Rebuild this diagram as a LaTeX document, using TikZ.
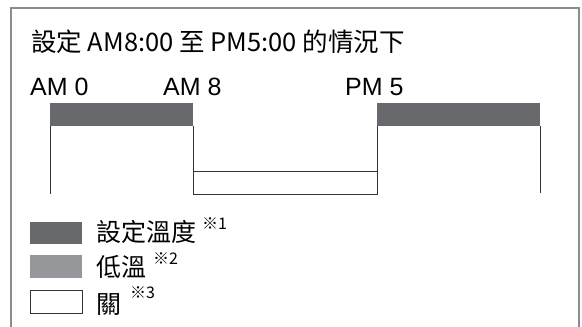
\documentclass[tikz,border=0pt]{standalone}
\usepackage{fontspec}
\setmainfont{Liberation Sans}
\newfontfamily\cjk{Noto Sans CJK TC}
\usetikzlibrary{positioning}
\definecolor{setgray}{HTML}{68696C}
\definecolor{lowgray}{HTML}{96979A}
\definecolor{framegray}{HTML}{8C8C8C}
\definecolor{linedark}{HTML}{333333}

\begin{document}
\begin{tikzpicture}[
      x=1pt,
      y=-1pt,
      timelabel/.style={
        anchor=base west,
        inner sep=0pt,
        font=\fontsize{25}{25}\selectfont
      },
      setbar/.style={
        fill=setgray,
        draw=none
      },
      stepline/.style={
        line width=1pt,
        draw=linedark
      },
      keybox/.style={
        minimum width=52pt,
        minimum height=22pt,
        inner sep=0pt,
        anchor=north west
      },
      keytext/.style={
        anchor=base west,
        inner sep=0pt,
        font=\cjk\fontsize{25}{25}\selectfont
      },
      keynote/.style={
        anchor=base west,
        inner sep=0pt,
        font=\cjk\fontsize{16}{16}\selectfont
      }
  ]

    \useasboundingbox (0,0) rectangle (582,327);

    % frame
    \draw[framegray, line width=2pt]
      (11,327) -- (11,8) -- (579,8) -- (579,327);

    % title
    \node[
      anchor=base west,
      inner sep=0pt,
      font=\cjk\fontsize{25.5}{25.5}\selectfont
    ] (title) at (31,51) {設定 AM8:00 至 PM5:00 的情況下};

    % hours
    \node[timelabel] (am0) at (30,95) {AM 0};
    \node[timelabel] (am8) at (163,95) {AM 8};
    \node[timelabel] (pm5) at (345,95) {PM 5};

    \coordinate (t0) at (50,126);
    \coordinate (t8) at (193,126);
    \coordinate (t17) at (377,126);
    \coordinate (tend) at (540,126);

    % set temperature bars
    \fill[setbar] (50,103) rectangle (t8);
    \fill[setbar] (377,103) rectangle (tend);

    % step lines
    \draw[stepline] (t0) -- ++(0,68);
    \draw[stepline] (t8) -- ++(0,68);
    \draw[stepline] (t17) -- ++(0,68);
    \draw[stepline] (tend) -- ++(0,67);

    % off period
    \draw[stepline] (193,171) rectangle (377,194);

    % legend
    \node[keybox, fill=setgray] (key1) at (30,222) {};
    \node[keybox, fill=lowgray, minimum height=23pt] (key2) at (30,255) {};
    \node[keybox, draw=linedark, line width=1pt, minimum height=23pt] (key3) at (30,290) {};

    \node[keytext] (text1) at (96,241) {設定溫度};
    \node[keytext] (text2) at (96,276) {低溫};
    \node[keytext] (text3) at (96,313) {關};

    \node[keynote] (note1) at (202,229) {※1};
    \node[keynote] (note2) at (153,264) {※2};
    \node[keynote] (note3) at (130,298) {※3};

  \end{tikzpicture}
\end{document}
